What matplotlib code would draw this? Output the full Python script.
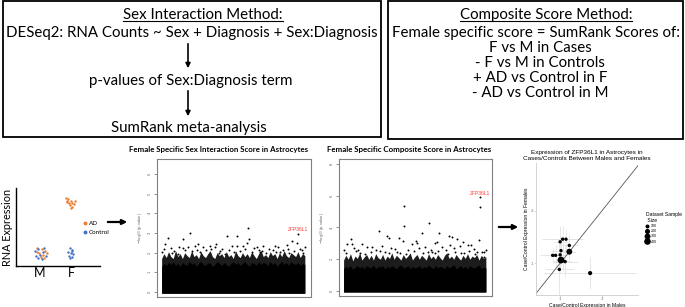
import numpy as np
import matplotlib.pyplot as plt
from matplotlib.patches import Rectangle
from matplotlib.lines import Line2D

W, H = 685, 307

# ---- toy expression plot (M / F, AD vs Control)
sex_pos = [1, 2]
sex_labels = ['M', 'F']
m_ad_x = [0.89, 1.05, 1.16, 0.98, 1.11, 1.22, 1.02, 1.14, 0.91]
m_ad_y = [0.227, 0.214, 0.196, 0.163, 0.141, 0.171, 0.119, 0.099, 0.183]
m_ctrl_x = [0.84, 0.95, 1.09, 1.00, 0.87, 1.19, 1.05, 0.95, 1.13]
m_ctrl_y = [0.196, 0.214, 0.183, 0.141, 0.128, 0.128, 0.086, 0.099, 0.227]
f_ad_x = [1.84, 1.91, 1.99, 1.88, 1.95, 2.02, 2.10, 1.97, 2.05, 2.01, 1.86, 2.12]
f_ad_y = [0.868, 0.859, 0.837, 0.824, 0.812, 0.804, 0.795, 0.782, 0.760, 0.740, 0.837, 0.837]
f_ctrl_x = [1.97, 2.03, 1.91, 1.99, 2.07, 1.94, 2.02, 1.97, 2.05]
f_ctrl_y = [0.227, 0.205, 0.183, 0.163, 0.154, 0.128, 0.112, 0.099, 0.192]

# ---- gene scores (x = gene index scaled 0-100)
env_x = [3, 4.5, 6, 7.5, 9, 10.5, 12, 13.5, 15, 16.5, 18, 19.5, 21, 22.5, 24, 25.5, 27, 28.5, 30, 31.5,
         33, 34.5, 36, 37.5, 39, 40.5, 42, 43.5, 45, 46.5, 48, 49.5, 51, 52.5, 54, 55.5, 57, 58.5, 60,
         61.5, 63, 64.5, 66, 67.5, 69, 70.5, 72, 73.5, 75, 76.5, 78, 79.5, 81, 82.5, 84, 85.5, 87, 88.5,
         90, 91.5, 93, 94.5, 96]
inter_solid = [1.3, 1.45, 1.35, 1.5, 1.4, 1.55, 1.35, 1.45, 1.3, 1.5, 1.4, 1.35, 1.55, 1.4, 1.5, 1.3,
               1.45, 1.55, 1.4, 1.35, 1.5, 1.45, 1.3, 1.4, 1.55, 1.45, 1.35, 1.5, 1.4, 1.3, 1.45, 1.55,
               1.4, 1.5, 1.35, 1.45, 1.55, 1.4, 1.3, 1.5, 1.45, 1.35, 1.55, 1.4, 1.5, 1.45, 1.35, 1.55,
               1.4, 1.5, 1.3, 1.45, 1.55, 1.4, 1.5, 1.35, 1.55, 1.45, 1.4, 1.5, 1.35, 1.45, 1.4]
inter_speck = [1.7, 1.95, 1.75, 2.05, 1.8, 1.7, 2.1, 1.8, 1.95, 1.7, 2.0, 1.85, 1.75, 2.1, 1.8, 1.9,
               1.7, 2.05, 1.85, 1.75, 1.95, 2.1, 1.8, 1.7, 2.0, 1.85, 1.95, 1.75, 2.05, 1.8, 1.9, 1.7,
               2.1, 1.85, 1.75, 2.0, 1.8, 1.95, 1.75, 2.05, 1.85, 1.7, 1.95, 2.1, 1.8, 1.9, 1.75, 2.05,
               1.85, 1.95, 1.7, 2.0, 1.8, 2.1, 1.85, 1.75, 2.0, 1.9, 1.8, 2.05, 1.75, 1.95, 1.85]
inter_x = [7.3, 5.2, 8.9, 16.7, 21.4, 20.3, 24.7, 26.6, 30.1, 34.4, 37.7, 45.3, 48.5, 51.7, 52.2, 56,
           58.2, 58.9, 60, 64.7, 69, 76.6, 78.8, 84.2, 87.4, 90.7, 95,
           3.5, 11, 13.5, 18, 28, 32, 40, 42, 44, 54, 62, 66, 71, 73, 80, 82, 86, 93, 96, 14.5, 38.5, 67,
           4.5, 9.5, 17, 23, 26, 35, 41, 47, 50, 57, 63, 68, 75, 77, 85, 89, 94]
inter_y = [2.72, 2.44, 2.24, 2.7, 3.0, 2.29, 2.36, 2.46, 2.29, 2.36, 2.29, 2.82, 2.32, 2.82, 2.36, 2.36,
           2.5, 3.26, 2.7, 2.29, 2.36, 2.32, 2.29, 2.41, 2.58, 2.5, 2.0,
           2.05, 2.1, 1.95, 2.15, 2.05, 2.12, 2.0, 2.18, 1.95, 2.1, 2.05, 2.15, 2.0, 2.2, 2.05, 2.15, 2.0, 2.2, 2.3, 2.3, 2.45, 2.05,
           2.2, 2.0, 2.25, 2.1, 2.15, 2.2, 2.1, 2.15, 2.05, 2.2, 2.25, 2.1, 2.15, 2.05, 2.2, 2.1, 2.15]
inter_gene = (91.8, 2.97)

comp_solid = [1.4, 1.55, 1.45, 1.6, 1.35, 1.5, 1.6, 1.45, 1.55, 1.4, 1.6, 1.5, 1.45, 1.65, 1.4, 1.55,
              1.5, 1.6, 1.4, 1.55, 1.45, 1.6, 1.5, 1.4, 1.55, 1.65, 1.45, 1.5, 1.6, 1.4, 1.55, 1.45,
              1.5, 1.6, 1.4, 1.55, 1.45, 1.65, 1.5, 1.4, 1.6, 1.45, 1.55, 1.5, 1.4, 1.6, 1.45, 1.55,
              1.65, 1.4, 1.5, 1.6, 1.45, 1.55, 1.4, 1.6, 1.5, 1.45, 1.55, 1.65, 1.4, 1.5, 1.45]
comp_speck = [1.95, 2.25, 2.0, 2.35, 1.9, 2.2, 2.05, 2.4, 1.95, 2.15, 2.3, 2.0, 2.25, 1.95, 2.35, 2.1,
              2.0, 2.3, 1.95, 2.2, 2.05, 2.4, 2.0, 2.25, 2.1, 1.95, 2.3, 2.05, 2.2, 2.4, 1.95, 2.15,
              2.3, 2.0, 2.25, 2.1, 1.95, 2.35, 2.05, 2.2, 2.0, 2.3, 2.1, 1.95, 2.25, 2.4, 2.05, 2.2,
              2.0, 2.3, 2.1, 1.95, 2.25, 2.05, 2.35, 2.0, 2.2, 2.1, 2.3, 1.95, 2.25, 2.05, 2.15]
comp_x = [42.7, 42.7, 59, 26.1, 54, 65.2, 31.2, 32.9, 39.2, 42, 72.1, 73.7, 77.3, 81.2, 91.5, 92.2,
          7.8, 5, 8.3, 15.2, 50.1, 50.8, 62.7, 63.8, 86.4, 84.5, 21.8, 36.6, 48, 72.5, 93.2, 94.8,
          3, 10, 12.5, 18, 24, 28, 34, 45, 52, 56, 60, 67, 70, 75, 79, 88, 96, 14, 30, 40, 58, 82, 90, 63,
          4.5, 11, 17, 21, 27, 33, 38, 44, 49, 55, 61, 65, 71, 76, 80, 85, 89, 95]
comp_y = [5.37, 4.1, 4.25, 3.77, 3.63, 3.67, 3.48, 3.35, 3.35, 3.16, 3.46, 3.38, 3.27, 3.1, 3.2, 5.26,
          3.3, 2.96, 2.96, 2.96, 3.16, 3.0, 3.0, 3.1, 2.9, 2.9, 2.8, 2.62, 2.96, 2.9, 2.47, 2.16,
          2.6, 2.7, 2.55, 2.75, 2.6, 2.85, 2.7, 2.55, 2.7, 2.75, 2.6, 2.8, 2.55, 2.7, 2.85, 2.65, 2.6,
          2.4, 2.45, 2.4, 2.45, 2.4, 2.45, 2.4,
          2.4, 2.5, 2.35, 2.45, 2.5, 2.4, 2.45, 2.35, 2.5, 2.4, 2.45, 2.5, 2.35, 2.45, 2.4, 2.5, 2.35, 2.45]
comp_gene = (92.2, 5.93)

# ---- ZFP36L1 case/control expression per dataset
male_fc = [1.00, 1.06, 1.14, 1.22, 1.02, 1.22, 1.00, 0.82, 0.89, 1.02, 1.12, 0.98, 1.72, 1.06]
female_fc = [1.41, 1.46, 1.46, 1.34, 1.24, 1.22, 1.16, 1.15, 1.15, 1.06, 1.03, 0.88, 0.81, 1.05]
male_err = [0.15, 0.5, 0.4, 0.2, 0.25, 0.15, 0.2, 0.3, 0.25, 0.1, 0.3, 0.35, 1.1, 0.2]
female_err = [0.3, 0.25, 0.2, 0.2, 0.2, 0.15, 0.35, 0.15, 0.2, 0.1, 0.3, 0.5, 0.3, 0.2]
sample_size = [100, 100, 100, 100, 100, 300, 100, 100, 100, 400, 100, 100, 150, 100]
legend_sizes = [100, 200, 300, 400]

orange = '#ED7D31'
blue = '#4472C4'
calib = 'Lato'
arial = 'Liberation Sans'
box_fs = 10.8

fig = plt.figure(figsize=(W / 100, H / 100), dpi=100)


def px_axes(l, t, r, b):
    return fig.add_axes([l / W, 1 - b / H, (r - l) / W, (b - t) / H])


# overlay in pixel coordinates for boxes, method text and arrows
bg = fig.add_axes([0, 0, 1, 1])
bg.set_xlim(0, W)
bg.set_ylim(H, 0)
bg.axis('off')

bg.add_patch(Rectangle((3, 1), 378, 136, fill=False, ec='black', lw=1.3))
bg.add_patch(Rectangle((388, 1), 295, 138, fill=False, ec='black', lw=1.3))

t1 = bg.text(203, 15, 'Sex Interaction Method:', ha='center', va='center', family=calib, fontsize=box_fs)
bg.text(192, 33, 'DESeq2: RNA Counts ~ Sex + Diagnosis + Sex:Diagnosis', ha='center', va='center',
        family=calib, fontsize=box_fs)
bg.text(191, 81, 'p-values of Sex:Diagnosis term', ha='center', va='center', family=calib, fontsize=box_fs)
bg.text(189, 128, 'SumRank meta-analysis', ha='center', va='center', family=calib, fontsize=box_fs)
for y0, y1 in [(41, 71), (88, 119)]:
    bg.annotate('', xy=(188, y1), xytext=(188, y0),
                arrowprops=dict(arrowstyle='-|>', color='black', lw=1.2, mutation_scale=7))

t2 = bg.text(546, 15, 'Composite Score Method:', ha='center', va='center', family=calib, fontsize=box_fs)
comp_lines = ['Female specific score = SumRank Scores of:', 'F vs M in Cases', '- F vs M in Controls',
              '+ AD vs Control in F', '- AD vs Control in M']
for i, s in enumerate(comp_lines):
    bg.text(536 if i == 0 else 540, 33 + 15 * i, s, ha='center', va='center', family=calib, fontsize=box_fs)

for y, x0, x1 in [(222, 105, 130), (227, 496, 521)]:
    bg.annotate('', xy=(x1, y), xytext=(x0, y),
                arrowprops=dict(arrowstyle='-|>', color='black', lw=1.6, mutation_scale=7))

# toy expression panel
ax1 = px_axes(16, 188, 100, 266)
ax1.scatter(m_ad_x, m_ad_y, s=3, color=orange, lw=0)
ax1.scatter(m_ctrl_x, m_ctrl_y, s=3, color=blue, lw=0)
ax1.scatter(f_ad_x, f_ad_y, s=3, color=orange, lw=0)
ax1.scatter(f_ctrl_x, f_ctrl_y, s=3, color=blue, lw=0)
ax1.set_xlim(0.226, 2.94)
ax1.set_ylim(0, 1)
ax1.set_xticks(sex_pos)
ax1.set_xticklabels(sex_labels, family=calib, fontsize=9)
ax1.tick_params(axis='x', length=0, pad=1)
ax1.set_yticks([])
ax1.set_ylabel('RNA Expression', family=calib, fontsize=7.8, labelpad=2)
for side in ['top', 'right']:
    ax1.spines[side].set_visible(False)
for side in ['left', 'bottom']:
    ax1.spines[side].set_linewidth(1.0)
ax1.patch.set_alpha(0)
fig.legend(handles=[Line2D([], [], marker='o', ls='', color=orange, ms=1.8, label='AD'),
                    Line2D([], [], marker='o', ls='', color=blue, ms=1.8, label='Control')],
           loc='center left', bbox_to_anchor=(79 / W, 1 - 228 / H), frameon=False,
           prop=dict(family=calib, size=4.5), handlelength=0.8, handletextpad=0.3,
           labelspacing=0.6, borderpad=0)


def score_panel(ax, solid, speck, px, py, gene, yticks, title):
    # dense mass of genes: speckled upper zone first, solid core drawn over it
    ax.fill_between(env_x, -0.06, speck, color='#1c1c1c', lw=0)
    ax.fill_between(env_x, -0.06, solid, color='black', lw=0)
    ax.plot(px, py, 'o', color='black', ms=1.4, mew=0)
    ax.plot([gene[0]], [gene[1]], 'o', color='black', ms=1.4, mew=0)
    ax.annotate('ZFP36L1', xy=gene, xytext=(0, 0.8), textcoords='offset points', ha='center',
                va='bottom', color='#ff3b3b', family=arial, fontsize=3.6)
    ax.set_xticks([])
    ax.set_yticks(yticks)
    ax.set_yticklabels([str(v) for v in yticks], rotation=90, va='center', color='#666666',
                       family=arial, fontsize=3)
    ax.tick_params(axis='y', length=2, width=0.5, pad=1.5, color='#666666')
    ax.set_ylabel(r'$-\log_{10}$(p-value)', family=arial, fontsize=3, color='#666666', labelpad=3)
    for sp in ax.spines.values():
        sp.set_color('#808080')
        sp.set_linewidth(0.8)
    ax.set_title(title, family=calib, fontweight='bold', fontsize=5.7, pad=5)


ax2 = px_axes(157, 159, 311, 297)
ax2.set_xlim(0, 100)
ax2.set_ylim(-0.25, 6.75)
score_panel(ax2, inter_solid, inter_speck, inter_x, inter_y, inter_gene, [0, 1, 2, 3, 4, 5, 6],
            'Female Specific Sex Interaction Score in Astrocytes')
ax2.title.set_position((0.4, 1))

ax3 = px_axes(339, 159, 492, 296)
ax3.set_xlim(0, 100)
ax3.set_ylim(-0.31, 8.3)
score_panel(ax3, comp_solid, comp_speck, comp_x, comp_y, comp_gene, [0, 2, 4, 6, 8],
            'Female Specific Composite Score in Astrocytes')
ax3.title.set_position((0.46, 1))

# case/control expression panel
ax4 = px_axes(536, 163, 638, 295)
ax4.errorbar(male_fc, female_fc, xerr=male_err, yerr=female_err, fmt='none',
             ecolor='#e3e3e3', elinewidth=0.6, capsize=0, zorder=1)
ax4.axline((1, 1), slope=1, color='#555555', lw=0.6, zorder=2)
ax4.scatter(male_fc, female_fc, s=[v * 0.06 for v in sample_size], color='black', lw=0, zorder=3)
ax4.set_xlim(0.42, 2.87)
ax4.set_ylim(0.39, 2.92)
ax4.set_xticks([1, 2])
ax4.set_yticks([1, 2])
ax4.tick_params(labelsize=3, labelcolor='#777777', length=1.2, width=0.4, color='#bbbbbb', pad=0.6)
for side in ['top', 'right']:
    ax4.spines[side].set_visible(False)
for side in ['left', 'bottom']:
    ax4.spines[side].set_color('#cccccc')
    ax4.spines[side].set_linewidth(0.6)
ax4.set_xlabel('Case/Control Expression in Males', family=arial, fontsize=3.6, labelpad=0.8)
ax4.set_ylabel('Case/Control Expression in Females', family=arial, fontsize=3.6, labelpad=1.5)
ax4.set_title('Expression of ZFP36L1 in Astrocytes in\nCases/Controls Between Males and Females',
              family=arial, fontsize=4.6, pad=2.5, linespacing=1.1)
ax4.patch.set_alpha(0)
fig.legend(handles=[Line2D([], [], marker='o', ls='', color='black', ms=np.sqrt(v * 0.035), label=str(v))
                    for v in legend_sizes],
           title='Dataset Sample\n Size', loc='upper left', bbox_to_anchor=(644 / W, 1 - 210 / H),
           frameon=False, prop=dict(family=arial, size=2.6), title_fontproperties=dict(family=arial, size=3.6),
           alignment='left', handlelength=0.8, handletextpad=0.5, labelspacing=0.35, borderpad=0)

# underline the method titles
fig.canvas.draw()
for t in [t1, t2]:
    bb = t.get_window_extent()
    bg.plot([bb.x0, bb.x1], [20.5, 20.5], color='black', lw=0.8)

fig.savefig('out.png', dpi=100)
